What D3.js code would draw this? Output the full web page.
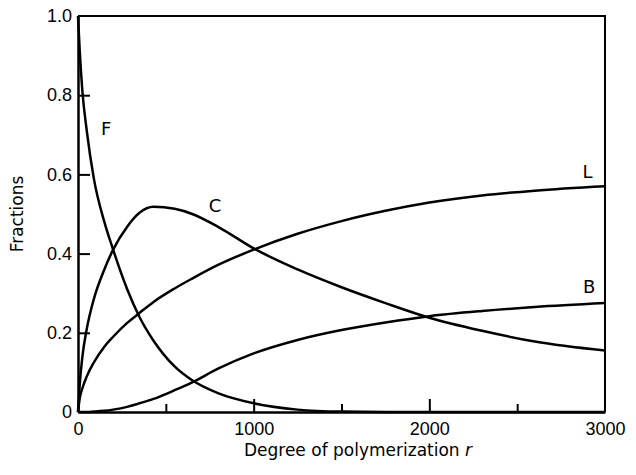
<!DOCTYPE html>
<html>
<head>
<meta charset="utf-8">
<script src="https://cdn.jsdelivr.net/npm/d3@7"></script>
<style>
    body { margin: 0; background: #fff; }
    svg { display: block; font-family: "DejaVu Sans", sans-serif; }
    .axis text { font-size: 18px; fill: #000; }
</style>
</head>
<body>
<svg id="chart" width="636" height="475"></svg>
<script>
// degree of polymerization r, and the four fractions
const rValues = [0, 10, 25, 50, 90, 150, 200, 280, 350, 430, 550, 650, 800, 1000, 1250, 1500, 1750, 2000, 2300, 2600, 3000];
const fValues = [1.0, 0.91, 0.81, 0.71, 0.59, 0.48, 0.41, 0.31, 0.24, 0.18, 0.115, 0.08, 0.047, 0.022, 0.006, 0.001, 0, 0, 0, 0, 0];
const cValues = [0, 0.07, 0.14, 0.21, 0.285, 0.36, 0.41, 0.468, 0.503, 0.518, 0.513, 0.5, 0.467, 0.413, 0.36, 0.315, 0.275, 0.238, 0.205, 0.178, 0.155];
const lValues = [0, 0.035, 0.06, 0.09, 0.125, 0.165, 0.19, 0.225, 0.25, 0.278, 0.312, 0.337, 0.372, 0.41, 0.45, 0.482, 0.508, 0.529, 0.547, 0.559, 0.57];
const bValues = [0, 0, 0, 0, 0.001, 0.003, 0.006, 0.013, 0.022, 0.033, 0.055, 0.075, 0.11, 0.148, 0.182, 0.207, 0.226, 0.242, 0.255, 0.265, 0.275];

const seriesNames = ["F", "C", "L", "B"];
const xMajorTicks = [0, 1000, 2000, 3000];
const xMinorTicks = [500, 1500, 2500];
const yTicks = [0, 0.2, 0.4, 0.6, 0.8, 1.0];
const xTitle = "Degree of polymerization ";
const yTitle = "Fractions";

const
    width = 636,
    height = 475,
    margin = { top: 16, right: 31, bottom: 63, left: 78 };

const svg = d3.select("#chart");

const x = d3.scaleLinear().domain([0, 3000]).range([margin.left, width - margin.right]);
const y = d3.scaleLinear().domain([0, 1]).range([height - margin.bottom, margin.top]);

// frame (top and right)
svg.append("path")
    .attr("d", `M${x(0)},${y(1)}H${x(3000)}V${y(0)}`)
    .attr("fill", "none")
    .attr("stroke", "#000")
    .attr("stroke-width", 2);

// axes, ticks pointing inside
const xAxis = svg.append("g")
    .attr("class", "axis")
    .attr("transform", `translate(0,${y(0)})`)
    .call(d3.axisBottom(x).tickValues(xMajorTicks).tickSizeInner(-13).tickSizeOuter(0).tickPadding(10).tickFormat(d3.format("d")));

svg.append("g")
    .attr("transform", `translate(0,${y(0)})`)
    .call(d3.axisBottom(x).tickValues(xMinorTicks).tickSizeInner(-8).tickSizeOuter(0).tickFormat(""))
    .call(g => g.select(".domain").remove())
    .selectAll("line").attr("stroke-width", 2);

const yAxis = svg.append("g")
    .attr("class", "axis")
    .attr("transform", `translate(${x(0)},0)`)
    .call(d3.axisLeft(y).tickValues(yTicks).tickSizeInner(-12).tickSizeOuter(0).tickPadding(6)
        .tickFormat(d => d === 0 ? "0" : d.toFixed(1)));

[xAxis, yAxis].forEach(g => {
    g.select(".domain").attr("stroke-width", 2.5);
    g.selectAll(".tick line").attr("stroke-width", 2);
    g.selectAll("text").attr("fill", "#000");
});
// no ticks drawn at the corners
xAxis.selectAll(".tick").filter(d => d === 0 || d === 3000).select("line").remove();
yAxis.selectAll(".tick").filter(d => d === 0 || d === 1).select("line").remove();

// curves
const line = d3.line()
    .x(d => x(d[0]))
    .y(d => y(d[1]))
    .curve(d3.curveMonotoneX);

[fValues, cValues, lValues, bValues].forEach(vals => {
    svg.append("path")
        .datum(rValues.map((r, i) => [r, vals[i]]))
        .attr("fill", "none")
        .attr("stroke", "#000")
        .attr("stroke-width", 2.5)
        .attr("stroke-linejoin", "round")
        .attr("d", line);
});

// curve labels
const labelPos = [[160, 0.70], [780, 0.505], [2900, 0.59], [2910, 0.30]];
svg.append("g")
    .selectAll("text")
    .data(seriesNames)
    .join("text")
    .attr("x", (d, i) => x(labelPos[i][0]))
    .attr("y", (d, i) => y(labelPos[i][1]))
    .attr("text-anchor", "middle")
    .attr("font-size", 18)
    .text(d => d);

// titles
const xt = svg.append("text")
    .attr("x", 358)
    .attr("y", 456)
    .attr("text-anchor", "middle")
    .attr("font-size", 17)
    .text(xTitle);
xt.append("tspan").attr("font-style", "italic").text("r");

svg.append("text")
    .attr("transform", `translate(23,${(y(0) + y(1)) / 2}) rotate(-90)`)
    .attr("text-anchor", "middle")
    .attr("font-size", 17)
    .text(yTitle);
</script>
</body>
</html>
